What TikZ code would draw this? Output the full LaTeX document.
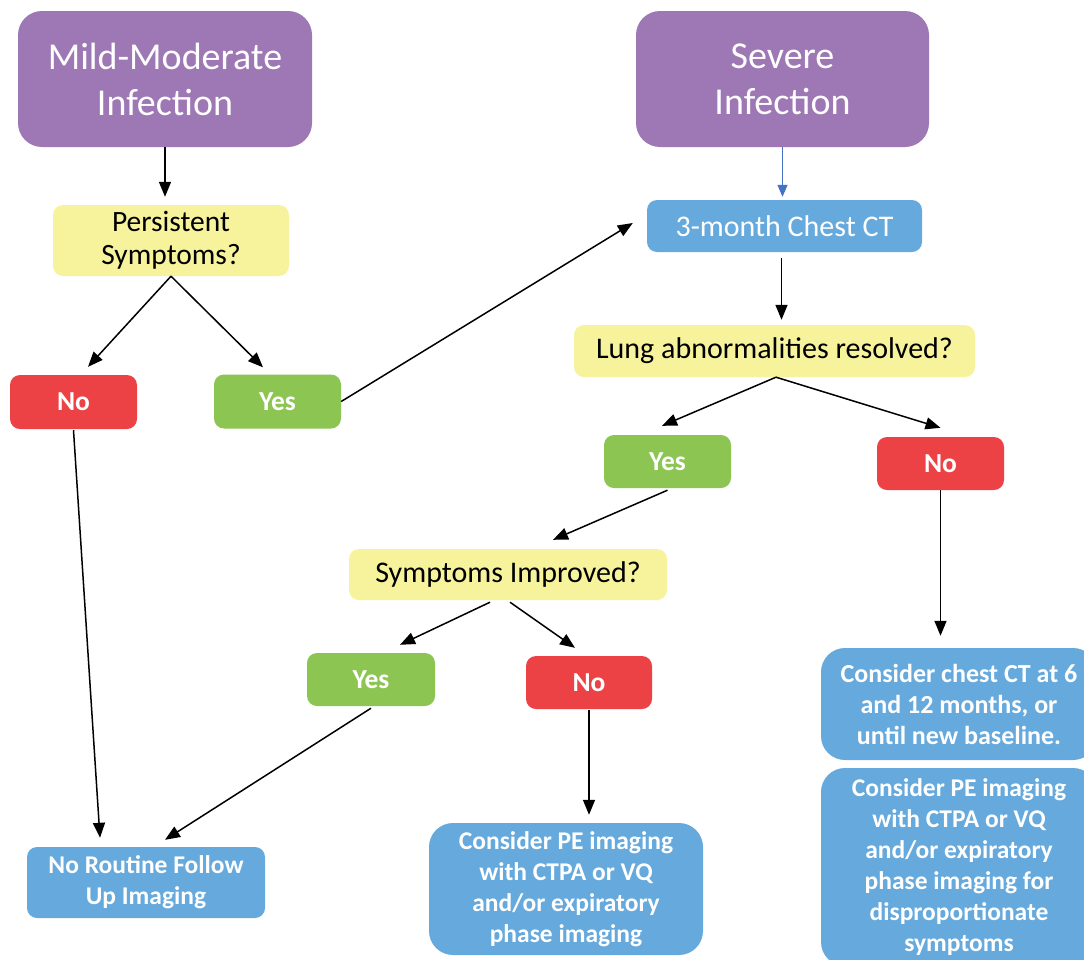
\documentclass[tikz,border=0pt]{standalone}
\usepackage{fontspec}
\setmainfont{Carlito}
\usepackage{xcolor}
\usetikzlibrary{arrows.meta,positioning,calc}

\definecolor{infpurple}{RGB}{158,119,181}
\definecolor{qyellow}{RGB}{247,243,156}
\definecolor{actblue}{RGB}{102,169,220}
\definecolor{nored}{RGB}{237,66,69}
\definecolor{yesgreen}{RGB}{141,197,83}
\definecolor{linkblue}{RGB}{68,114,196}

\begin{document}
\begin{tikzpicture}[x=1pt, y=-1pt,
    box/.style={rectangle, rounded corners=10pt, inner sep=0pt, align=center},
    infection/.style={box, fill=infpurple, text=white, rounded corners=24pt,
        minimum width=294pt, minimum height=136pt, font=\fontsize{38}{46}\selectfont},
    question/.style={box, fill=qyellow, text=black, minimum height=52pt,
        font=\fontsize{30}{33}\selectfont},
    yesbox/.style={box, fill=yesgreen, text=white, minimum width=127pt,
        minimum height=54pt, font=\bfseries\fontsize{27.5}{33}\selectfont},
    nobox/.style={box, fill=nored, text=white, minimum width=127pt,
        minimum height=54pt, font=\bfseries\fontsize{27.5}{33}\selectfont},
    action/.style={box, fill=actblue, text=white,
        font=\bfseries\fontsize{25.5}{31}\selectfont},
    arr/.style={-{Triangle[length=15pt,width=12pt]}, line width=1.5pt, black}]

    % Page
    \fill[white] (0,0) rectangle (1084,959);
    \useasboundingbox (0,0) rectangle (1084,959);

    % Infection levels
    \node[infection] (mild) at (165,79) {Mild-Moderate\\Infection};
    \node[infection, minimum width=293pt] (severe) at (782.5,79) {Severe\\Infection};

    % Mild-moderate branch
    \node[question, minimum width=236pt, minimum height=71pt,
        font=\fontsize{29.5}{33}\selectfont] (persist) at (171,240.5) {Persistent\\Symptoms?};
    \node[nobox] (no1) at (73.5,402) {No};
    \node[yesbox] (yes1) at (277.5,401.5) {Yes};
    \node[action, minimum width=238pt, minimum height=71pt] (noroutine) at (146,882.5)
        {No Routine Follow\\Up Imaging};

    % Severe branch
    \node[box, fill=actblue, text=white, minimum width=275pt, minimum height=52pt,
        font=\fontsize{30}{33}\selectfont] (chest) at (784.5,226) {3-month Chest CT};
    \node[question, minimum width=401pt] (lung) at (774.5,351) {Lung abnormalities resolved?};
    \node[yesbox, minimum height=53pt] (yes2) at (667.5,461.5) {Yes};
    \node[nobox, minimum height=53pt] (no2) at (940.5,463.5) {No};
    \node[question, minimum width=318pt, minimum height=51pt] (sympt) at (508,574.5)
        {Symptoms Improved?};
    \node[yesbox, minimum width=128pt, minimum height=53pt] (yes3) at (371,679.5) {Yes};
    \node[nobox, minimum width=126pt, minimum height=53pt] (no3) at (589,682.5) {No};

    % Follow-up actions
    \node[action, rounded corners=24pt, minimum width=274pt, minimum height=132pt]
        (pe1) at (566,889) {Consider PE imaging\\with CTPA or VQ\\and/or expiratory\\phase imaging};
    \node[action, rounded corners=24pt, minimum width=276pt, minimum height=112pt,
        font=\bfseries\fontsize{26}{31}\selectfont]
        (ct6) at (959,704) {Consider chest CT at 6\\and 12 months, or\\until new baseline.};
    \node[action, rounded corners=24pt, minimum width=276pt, minimum height=198pt]
        (pe2) at (959,867) {Consider PE imaging\\with CTPA or VQ\\and/or expiratory\\phase imaging for\\disproportionate\\symptoms};

    % Arrows
    \draw[arr] (mild.south) -- ([yshift=8pt]mild.south |- persist.north);
    \draw[-{Triangle[length=12pt,width=10pt]}, line width=1.2pt, linkblue]
        (severe.south) -- ([yshift=3pt]severe.south |- chest.north);
    \draw[arr] (persist.south) -- ([xshift=14.5pt,yshift=8pt]no1.north);
    \draw[arr] (persist.south) -- ([xshift=-14.5pt,yshift=7pt]yes1.north);
    \draw[arr] (yes1.east) -- ([xshift=-14pt,yshift=3pt]chest.west);
    \draw[arr] ([xshift=-3pt,yshift=-6pt]chest.south) -- ([xshift=-3pt,yshift=5pt]chest.south |- lung.north);
    \draw[arr] ([xshift=1.5pt]lung.south) -- ([xshift=-5.5pt,yshift=9pt]yes2.north);
    \draw[arr] ([xshift=1.5pt]lung.south) -- ([yshift=9pt]no2.north);
    \draw[arr] (no2.south) -- ([yshift=12pt]no2.south |- ct6.north);
    \draw[arr] ([yshift=-2pt]yes2.south) -- ([xshift=45pt,yshift=9pt]sympt.north);
    \draw[arr] ([xshift=-18pt,yshift=-2pt]sympt.south) -- ([xshift=29pt,yshift=8pt]yes3.north);
    \draw[arr] ([xshift=2pt,yshift=-2pt]sympt.south) -- ([xshift=-14pt,yshift=8pt]no3.north);
    \draw[arr] ([yshift=-1pt]no3.south) -- ([yshift=8pt]no3.south |- pe1.north);
    \draw[arr] ([yshift=-2pt]yes3.south) -- ([xshift=19pt,yshift=7pt]noroutine.north);
    \draw[arr] ([yshift=-1pt]no1.south) -- ([xshift=-46pt,yshift=9pt]noroutine.north);
\end{tikzpicture}
\end{document}
